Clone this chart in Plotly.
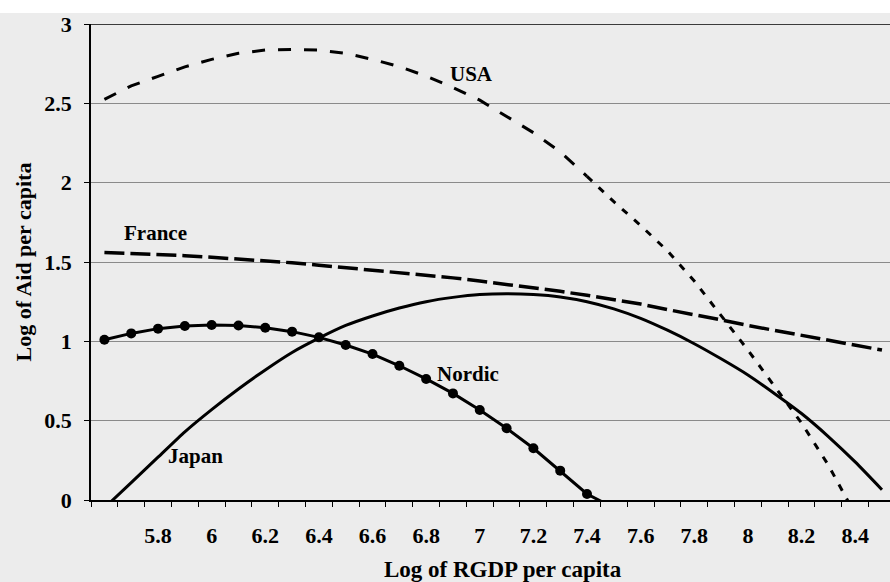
import plotly.graph_objects as go

# Categories (Log of RGDP per capita)
x_vals = [5.6, 5.7, 5.8, 5.9, 6.0, 6.1, 6.2, 6.3, 6.4, 6.5,
          6.6, 6.7, 6.8, 6.9, 7.0, 7.1, 7.2, 7.3, 7.4, 7.5,
          7.6, 7.7, 7.8, 7.9, 8.0, 8.1, 8.2, 8.3, 8.4, 8.5]

# Series values (Log of Aid per capita)
usa = [2.525, 2.61, 2.67, 2.73, 2.777, 2.815, 2.836, 2.84, 2.836, 2.815,
       2.777, 2.731, 2.672, 2.60, 2.52, 2.42, 2.315, 2.195, 2.04, 1.88,
       1.73, 1.57, 1.38, 1.16, 0.945, 0.715, 0.485, 0.22, -0.09]
france = [1.56, 1.555, 1.55, 1.54, 1.53, 1.52, 1.51, 1.495, 1.48, 1.465,
          1.45, 1.435, 1.415, 1.40, 1.38, 1.36, 1.34, 1.315, 1.29, 1.265,
          1.235, 1.20, 1.17, 1.135, 1.10, 1.07, 1.04, 1.005, 0.975, 0.945]
japan = [-0.05, 0.11, 0.27, 0.43, 0.57, 0.70, 0.82, 0.93, 1.02, 1.10,
         1.16, 1.21, 1.25, 1.277, 1.295, 1.30, 1.295, 1.28, 1.25, 1.205,
         1.145, 1.07, 0.985, 0.89, 0.788, 0.67, 0.545, 0.40, 0.24, 0.065]
nordic = [1.01, 1.05, 1.08, 1.097, 1.103, 1.10, 1.086, 1.061, 1.025, 0.977,
          0.92, 0.846, 0.763, 0.672, 0.567, 0.452, 0.326, 0.185, 0.038, -0.05]

# Tick labels
x_tick_vals = [5.8, 6.0, 6.2, 6.4, 6.6, 6.8, 7.0, 7.2, 7.4, 7.6, 7.8, 8.0, 8.2, 8.4]
x_tick_text = ["5.8", "6", "6.2", "6.4", "6.6", "6.8", "7", "7.2", "7.4", "7.6", "7.8", "8", "8.2", "8.4"]
y_tick_vals = [0, 0.5, 1, 1.5, 2, 2.5, 3]
y_tick_text = ["0", "0.5", "1", "1.5", "2", "2.5", "3"]

# Series labels placed on the chart
labels = ["USA", "France", "Nordic", "Japan"]
label_x = [6.97, 5.79, 6.957, 5.941]
label_y = [2.687, 1.681, 0.794, 0.279]

FONT = "Liberation Serif"
split = 18  # USA dash style changes around 7.4

fig = go.Figure()
fig.add_trace(go.Scatter(x=x_vals[:split + 1], y=usa[:split + 1], mode="lines",
                         line=dict(color="black", width=3, dash="13px,13px"),
                         showlegend=False, hoverinfo="skip"))
fig.add_trace(go.Scatter(x=x_vals[split:len(usa)], y=usa[split:], mode="lines",
                         line=dict(color="black", width=3, dash="7px,9px"),
                         showlegend=False, hoverinfo="skip"))
fig.add_trace(go.Scatter(x=x_vals, y=france, mode="lines",
                         line=dict(color="black", width=3.5, dash="20px,6px"),
                         showlegend=False, hoverinfo="skip"))
fig.add_trace(go.Scatter(x=x_vals, y=japan, mode="lines",
                         line=dict(color="black", width=3, shape="spline", smoothing=0.6),
                         showlegend=False, hoverinfo="skip"))
fig.add_trace(go.Scatter(x=x_vals[:len(nordic)], y=nordic, mode="lines+markers",
                         line=dict(color="black", width=3),
                         marker=dict(color="black", size=10),
                         showlegend=False, hoverinfo="skip"))

for t, lx, ly in zip(labels, label_x, label_y):
    fig.add_annotation(x=lx, y=ly, text="<b>%s</b>" % t, showarrow=False,
                       font=dict(family=FONT, size=21, color="black"),
                       xanchor="center", yanchor="middle")

# Axis titles
fig.add_annotation(xref="paper", yref="paper", x=0.516, y=-0.147,
                   text="<b>Log of RGDP per capita</b>", showarrow=False,
                   font=dict(family=FONT, size=23, color="black"),
                   xanchor="center", yanchor="middle")
fig.add_annotation(xref="paper", yref="paper", x=-0.084, y=0.501,
                   text="<b>Log of Aid per capita</b>", showarrow=False, textangle=-90,
                   font=dict(family=FONT, size=22, color="black"),
                   xanchor="center", yanchor="middle")

# Top border line of the plot area
fig.add_shape(type="line", xref="paper", yref="y", x0=0, x1=1, y0=3, y1=3,
              line=dict(color="black", width=1.5), layer="below")
# White strip along the very top of the scanned figure
fig.add_shape(type="rect", xref="paper", yref="paper", x0=-0.12, x1=1.01, y0=1.023, y1=1.06,
              fillcolor="white", line=dict(width=0), layer="below")

fig.update_layout(
    width=890, height=582,
    margin=dict(l=91, r=0, t=24, b=82),
    paper_bgcolor="#ececec", plot_bgcolor="#ececec",
    showlegend=False,
    xaxis=dict(range=[5.55, 8.53], tickmode="array", tickvals=x_tick_vals,
               ticktext=["<b>%s</b>" % s for s in x_tick_text],
               ticks="", showgrid=False, zeroline=False,
               showline=True, linecolor="black", linewidth=1.5,
               tickfont=dict(family=FONT, size=22, color="black"),
               ticklabelstandoff=15,
               minor=dict(tickmode="linear", tick0=5.55, dtick=0.1, ticks="outside",
                          ticklen=5, tickcolor="black", tickwidth=1, showgrid=False)),
    yaxis=dict(range=[0, 3], tickmode="array", tickvals=y_tick_vals,
               ticktext=["<b>%s</b>" % s for s in y_tick_text],
               ticks="outside", ticklen=5, tickcolor="black",
               showgrid=True, gridcolor="#8a8a8a", gridwidth=1, zeroline=False,
               showline=True, linecolor="black", linewidth=1.5,
               tickfont=dict(family=FONT, size=22, color="black"),
               ticklabelstandoff=8),
)

fig.write_html("out.html", config={"displayModeBar": False},
               post_script="document.body.style.margin='0';document.body.style.overflow='hidden';")
